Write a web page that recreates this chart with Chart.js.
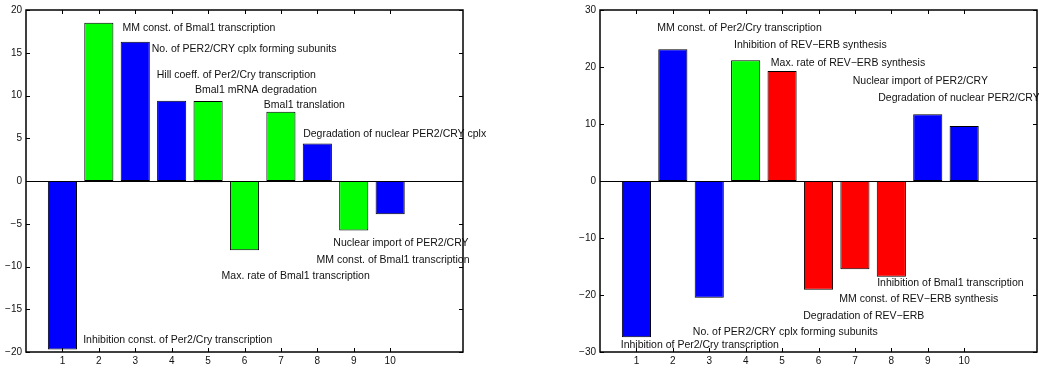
<!DOCTYPE html>
<html>
<head>
<meta charset="utf-8">
<script src="https://cdn.jsdelivr.net/npm/chart.js@4"></script>
<style>
    html, body { margin: 0; padding: 0; background: #fff; }
    #wrap { position: relative; width: 1039px; height: 368px; overflow: hidden; }
    canvas { position: absolute; top: 0; }
    #leftChart { left: 0; }
    #rightChart { left: 520px; }
</style>
</head>
<body>
<div id="wrap">
    <canvas id="leftChart" width="519" height="368"></canvas>
    <canvas id="rightChart" width="519" height="368"></canvas>
</div>
<script>
// bar positions and axis ticks
const barIndex = [1, 2, 3, 4, 5, 6, 7, 8, 9, 10];
const xTicks = [1, 2, 3, 4, 5, 6, 7, 8, 9, 10];

// left panel
const leftValues = [-19.7, 18.5, 16.3, 9.4, 9.35, -8.1, 8.1, 4.4, -5.8, -3.9];
const leftColors = ['#0000ff', '#00ff00', '#0000ff', '#0000ff', '#00ff00', '#00ff00', '#00ff00', '#0000ff', '#00ff00', '#0000ff'];
const leftExtraIndex = [5];
const leftExtraValues = [-0.15];
const leftYTicks = [-20, -15, -10, -5, 0, 5, 10, 15, 20];
const leftLabels = [
    'MM const. of Bmal1 transcription',
    'No. of PER2/CRY cplx forming subunits',
    'Hill coeff. of Per2/Cry transcription',
    'Bmal1 mRNA degradation',
    'Bmal1 translation',
    'Degradation of nuclear PER2/CRY cplx',
    'Nuclear import of PER2/CRY',
    'MM const. of Bmal1 transcription',
    'Max. rate of Bmal1 transcription',
    'Inhibition const. of Per2/Cry transcription'
];
const leftLabelX = [2.65, 3.45, 3.59, 4.64, 6.53, 7.61, 8.44, 7.98, 5.37, 1.57];
const leftLabelY = [17.9, 15.4, 12.35, 10.6, 8.83, 5.54, -7.28, -9.22, -11.15, -18.6];

// right panel
const rightValues = [-27.4, 23.1, -20.5, 21.2, 19.3, -19.1, -15.5, -16.8, 11.7, 9.65];
const rightColors = ['#0000ff', '#0000ff', '#0000ff', '#00ff00', '#ff0000', '#ff0000', '#ff0000', '#ff0000', '#0000ff', '#0000ff'];
const rightYTicks = [-30, -20, -10, 0, 10, 20, 30];
const rightLabels = [
    'MM const. of Per2/Cry transcription',
    'Inhibition of REV\u2212ERB synthesis',
    'Max. rate of REV\u2212ERB synthesis',
    'Nuclear import of PER2/CRY',
    'Degradation of nuclear PER2/CRY',
    'Inhibition of Bmal1 transcription',
    'MM const. of REV\u2212ERB synthesis',
    'Degradation of REV\u2212ERB',
    'No. of PER2/CRY cplx forming subunits',
    'Inhibition of Per2/Cry transcription'
];
const rightLabelX = [1.57, 3.68, 4.69, 6.94, 7.64, 7.61, 6.57, 5.58, 2.55, 0.57];
const rightLabelY = [26.87, 23.79, 20.66, 17.48, 14.57, -17.95, -20.73, -23.62, -26.47, -28.78];

const FONT = '"Liberation Sans", Arial, Helvetica, sans-serif';

function fmtTick(v) {
    return v < 0 ? '\u2212' + Math.abs(v) : String(v);
}

// matlab style box, inward ticks, baseline and text annotations
const matlabAxes = {
    id: 'matlabAxes',
    afterDatasetsDraw(chart, args, opts) {
        const ctx = chart.ctx;
        const xs = chart.scales.x;
        const ys = chart.scales.y;
        const a = chart.chartArea;
        ctx.save();
        // baseline at zero
        ctx.strokeStyle = '#000';
        ctx.lineWidth = 1;
        const y0 = Math.round(ys.getPixelForValue(0)) + 0.5;
        ctx.beginPath();
        ctx.moveTo(a.left, y0);
        ctx.lineTo(a.right, y0);
        ctx.stroke();

        ctx.font = '10.5px ' + FONT;
        ctx.fillStyle = '#111';
        ctx.textAlign = 'left';
        ctx.textBaseline = 'middle';
        opts.texts.forEach((t, i) => {
            ctx.fillText(t, xs.getPixelForValue(opts.tx[i]), ys.getPixelForValue(opts.ty[i]));
        });
        ctx.restore();
    },
    afterDraw(chart) {
        const ctx = chart.ctx;
        const xs = chart.scales.x;
        const ys = chart.scales.y;
        const a = chart.chartArea;
        ctx.save();
        ctx.strokeStyle = '#000';
        ctx.lineWidth = 1;
        ctx.beginPath();
        xs.ticks.forEach(t => {
            const px = Math.round(xs.getPixelForValue(t.value)) + 0.5;
            ctx.moveTo(px, a.bottom);
            ctx.lineTo(px, a.bottom - 4);
            ctx.moveTo(px, a.top);
            ctx.lineTo(px, a.top + 4);
        });
        ys.ticks.forEach(t => {
            const py = Math.round(ys.getPixelForValue(t.value)) + 0.5;
            ctx.moveTo(a.left, py);
            ctx.lineTo(a.left + 4, py);
            ctx.moveTo(a.right, py);
            ctx.lineTo(a.right - 4, py);
        });
        ctx.stroke();
        ctx.lineWidth = 1.5;
        ctx.strokeRect(a.left, a.top, a.right - a.left, a.bottom - a.top);
        ctx.restore();
    }
};

function makeChart(id, p) {
    const datasets = [{
        data: barIndex.map((x, i) => ({ x: x, y: p.values[i] })),
        backgroundColor: p.colors,
        borderColor: '#000',
        borderWidth: 1,
        borderSkipped: false,
        categoryPercentage: 1,
        barPercentage: 0.8
    }];
    if (p.extraIndex) {
        datasets.push({
            data: p.extraIndex.map((x, i) => ({ x: x, y: p.extraValues[i] })),
            backgroundColor: '#0000ff',
            borderColor: '#000',
            borderWidth: 0.6,
            borderSkipped: false,
            grouped: false,
            categoryPercentage: 1,
            barPercentage: 0.8
        });
    }

    new Chart(document.getElementById(id), {
        type: 'bar',
        data: { datasets: datasets },
        plugins: [matlabAxes],
        options: {
            responsive: false,
            animation: false,
            devicePixelRatio: 1,
            layout: { padding: { top: 7, right: p.padRight, bottom: 0, left: 0 } },
            plugins: {
                legend: { display: false },
                tooltip: { enabled: false },
                matlabAxes: { texts: p.labels, tx: p.labelX, ty: p.labelY }
            },
            scales: {
                x: {
                    type: 'linear',
                    min: 0,
                    max: 12,
                    offset: false,
                    grid: { display: false, drawTicks: false, offset: false },
                    border: { display: false },
                    afterBuildTicks: (s) => { s.ticks = xTicks.map(v => ({ value: v })); },
                    afterFit: (s) => { s.height = 16; },
                    ticks: {
                        color: '#111',
                        padding: 3,
                        maxRotation: 0,
                        autoSkip: false,
                        font: { family: FONT, size: 10 },
                        callback: (v) => String(v)
                    }
                },
                y: {
                    min: p.yTicks[0],
                    max: p.yTicks[p.yTicks.length - 1],
                    grid: { display: false, drawTicks: false },
                    border: { display: false },
                    afterBuildTicks: (s) => { s.ticks = p.yTicks.map(v => ({ value: v })); },
                    afterFit: (s) => { s.width = p.yAxisWidth; },
                    ticks: {
                        color: '#111',
                        padding: 4,
                        autoSkip: false,
                        font: { family: FONT, size: 10 },
                        callback: (v) => fmtTick(v)
                    }
                }
            }
        }
    });
}

makeChart('leftChart', {
    values: leftValues, colors: leftColors,
    extraIndex: leftExtraIndex, extraValues: leftExtraValues,
    yTicks: leftYTicks,
    labels: leftLabels, labelX: leftLabelX, labelY: leftLabelY,
    yAxisWidth: 26, padRight: 56
});

makeChart('rightChart', {
    values: rightValues, colors: rightColors,
    yTicks: rightYTicks,
    labels: rightLabels, labelX: rightLabelX, labelY: rightLabelY,
    yAxisWidth: 80, padRight: 2
});
</script>
</body>
</html>
